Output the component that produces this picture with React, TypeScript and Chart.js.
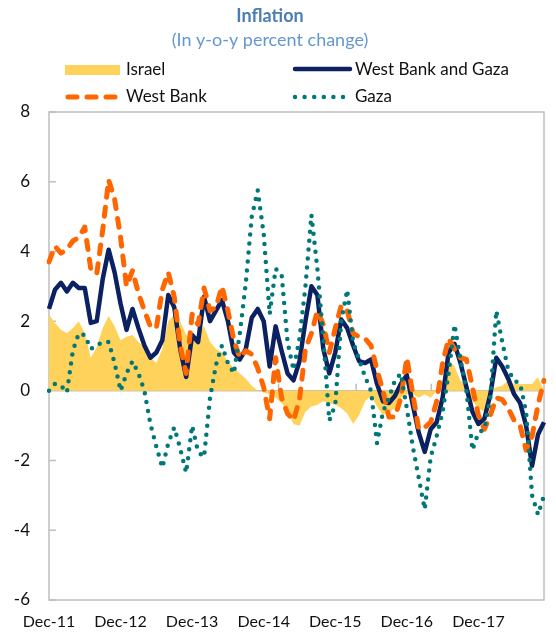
import React, { useEffect, useRef } from 'react';
import { Chart, registerables } from 'chart.js';

Chart.register(...registerables);

const TITLE = 'Inflation';
const SUBTITLE = '(In y-o-y percent change)';

const MONTHS = ['Jan', 'Feb', 'Mar', 'Apr', 'May', 'Jun', 'Jul', 'Aug', 'Sep', 'Oct', 'Nov', 'Dec'];

// Monthly, Dec-11 .. Nov-18
const israel = [
  2.2, 1.95, 1.75, 1.65, 1.8, 2.0, 1.65, 0.95, 1.25, 1.8,
  2.15, 1.85, 1.45, 1.55, 1.6, 1.4, 1.25, 0.95, 0.8, 1.2,
  2.0, 2.2, 2.0, 1.6, 1.45, 1.6, 1.85, 1.4, 1.2, 1.1,
  0.85, 0.65, 0.5, 0.35, 0.15, 0.0, -0.05, -0.1, -0.2, -0.35,
  -0.6, -0.95, -1.0, -0.6, -0.45, -0.4, -0.3, -0.35, -0.4, -0.5,
  -0.65, -0.95, -0.7, -0.3, -0.15, -0.45, -0.7, -0.6, -0.5, -0.2,
  -0.1, -0.1, -0.2, -0.1, -0.2, 0.0, 0.3, 0.9, 0.7, 0.3,
  0.1, -0.3, -0.5, -0.6, 0.0, 0.1, 0.15, 0.3, 0.2, 0.2,
  0.2, 0.2, 0.4, 0.0,
];

const westBankAndGaza = [
  2.35, 2.9, 3.1, 2.85, 3.1, 2.95, 2.95, 1.95, 2.0, 3.2,
  4.05, 3.4, 2.5, 1.75, 2.35, 1.8, 1.3, 0.95, 1.1, 1.45,
  2.75, 2.4, 1.2, 0.4, 1.6, 1.4, 2.7, 2.0, 2.3, 2.6,
  2.0, 1.1, 0.9, 1.2, 2.1, 2.35, 2.0, 0.7, 1.85, 1.15,
  0.5, 0.3, 0.85, 2.0, 3.0, 2.75, 1.2, 0.5, 1.1, 2.05,
  1.8, 1.3, 0.85, 0.8, 0.9, 0.2, -0.3, -0.35, -0.15, 0.2,
  0.45, -0.4, -1.2, -1.75, -1.1, -0.9, -0.2, 1.1, 1.35, 0.8,
  0.1, -0.6, -0.95, -0.8, -0.1, 0.95, 0.7, 0.35, -0.1, -0.35,
  -1.0, -2.15, -1.25, -0.9,
];

const westBank = [
  3.7, 4.15, 3.95, 4.05, 4.3, 4.4, 4.7, 3.5, 3.35, 4.6,
  6.05, 5.5, 4.4, 3.0, 3.45, 2.8, 2.3, 1.85, 1.8, 2.9,
  3.4, 2.7, 1.3, 0.5, 2.2, 1.9, 2.95, 2.3, 2.4, 3.0,
  2.3, 1.45, 0.95, 1.15, 1.05, 0.65, 0.1, -0.8, 0.95, -0.2,
  -0.65, -0.85, -0.25, 1.2, 1.65, 2.3, 1.9, 1.1, 1.8, 2.45,
  2.3, 1.65, 1.55, 1.5, 1.3, 0.6, 0.0, -0.75, -0.75, -0.2,
  0.95, -0.1, -1.1, -1.05, -0.9, -0.3, 0.8, 1.5, 1.2, 0.95,
  0.9, 0.1, -0.7, -1.1, -0.7, -0.2, -0.25, -0.5, -0.85, -1.0,
  -1.7, -1.3, -0.4, 0.3,
];

const gaza = [
  0.0, 0.2, 0.15, -0.05, 1.15, 1.65, 1.6, 1.2, 1.3, 1.4,
  1.4, 0.8, 0.0, 0.5, 0.85, 0.5, 0.0, -0.95, -1.6, -2.2,
  -1.5, -1.05, -1.65, -2.35, -1.0, -1.75, -1.9, -0.2, 0.75, 1.3,
  0.8, 0.5, 1.65, 3.1, 5.0, 5.75, 4.5, 2.2, 3.5, 3.35,
  1.4, 0.6, 1.5, 3.0, 5.05, 3.5, 1.5, -0.85, -0.4, 2.0,
  2.9, 1.4, 0.9, 0.4, 0.0, -1.5, -0.6, -0.2, 0.3, 0.5,
  -0.5, -1.6, -2.5, -3.4, -1.9, -1.3, -0.6, 0.5, 1.9, 0.9,
  0.0, -1.7, -1.2, -1.1, -0.2, 2.3, 1.4, 0.6, 0.3, 0.2,
  -0.6, -3.0, -3.55, -3.0,
];

const categories = israel.map((_, k) => {
  const m = (11 + k) % 12;
  const yr = 11 + Math.floor((11 + k) / 12);
  return `${MONTHS[m]}-${yr}`;
});

const tickLabels = ['Dec-11', 'Dec-12', 'Dec-13', 'Dec-14', 'Dec-15', 'Dec-16', 'Dec-17'];
const yTickValues = [-6, -4, -2, 0, 2, 4, 6, 8];
const axisTickIndices = [12.7, 25.7, 38.5, 51.5, 64.1];

const COLORS = {
  israel: '#ffd35b',
  wbg: '#0b2161',
  wb: '#ff6600',
  gaza: '#007878',
  axis: '#bfbfbf',
  title: '#4a7db5',
  subtitle: '#6497cf',
  text: '#111111',
};

const FONT = 'Lato, "Open Sans", sans-serif';

const framePlugin = {
  id: 'frame',
  beforeDatasetsDraw(chart: any) {
    const { ctx, chartArea: a, scales } = chart;
    const y0 = scales.y.getPixelForValue(0);
    ctx.save();
    ctx.strokeStyle = COLORS.axis;
    ctx.lineWidth = 1.5;
    ctx.strokeRect(a.left, a.top, a.right - a.left, a.bottom - a.top);
    ctx.beginPath();
    ctx.moveTo(a.left, y0);
    ctx.lineTo(a.right, y0);
    yTickValues.forEach((v) => {
      const py = scales.y.getPixelForValue(v);
      ctx.moveTo(a.left, py);
      ctx.lineTo(a.left + 7, py);
    });
    axisTickIndices.forEach((i) => {
      const px = scales.x.getPixelForValue(i);
      ctx.moveTo(px, y0);
      ctx.lineTo(px, y0 - 7);
    });
    ctx.stroke();
    ctx.restore();
  },
};

const headerPlugin = {
  id: 'header',
  afterDraw(chart: any) {
    const ctx = chart.ctx;
    ctx.save();
    ctx.textAlign = 'center';
    ctx.textBaseline = 'middle';
    ctx.fillStyle = COLORS.title;
    ctx.font = `bold 18px ${FONT}`;
    ctx.fillText(TITLE, 270, 16);
    ctx.fillStyle = COLORS.subtitle;
    ctx.font = `18px ${FONT}`;
    ctx.fillText(SUBTITLE, 270, 40);

    // legend
    ctx.textAlign = 'left';
    ctx.fillStyle = COLORS.text;
    ctx.font = `17px ${FONT}`;
    const row1 = 70;
    const row2 = 97;
    // Israel
    ctx.fillStyle = COLORS.israel;
    ctx.fillRect(65, row1 - 5, 55, 10);
    ctx.fillStyle = COLORS.text;
    ctx.fillText('Israel', 126, row1);
    // West Bank and Gaza
    ctx.strokeStyle = COLORS.wbg;
    ctx.lineWidth = 4.5;
    ctx.lineCap = 'round';
    ctx.beginPath();
    ctx.moveTo(295, row1 - 1);
    ctx.lineTo(350, row1 - 1);
    ctx.stroke();
    ctx.fillText('West Bank and Gaza', 355, row1);
    // West Bank
    ctx.strokeStyle = COLORS.wb;
    ctx.lineWidth = 5;
    ctx.setLineDash([9, 10]);
    ctx.beginPath();
    ctx.moveTo(68, row2);
    ctx.lineTo(118, row2);
    ctx.stroke();
    ctx.fillText('West Bank', 126, row2);
    // Gaza
    ctx.strokeStyle = COLORS.gaza;
    ctx.lineWidth = 4.5;
    ctx.setLineDash([0, 9.6]);
    ctx.beginPath();
    ctx.moveTo(295, row2);
    ctx.lineTo(346, row2);
    ctx.stroke();
    ctx.setLineDash([]);
    ctx.fillText('Gaza', 355, row2);
    ctx.restore();
  },
};

export default function App() {
  const ref = useRef<HTMLCanvasElement | null>(null);

  useEffect(() => {
    document.body.style.margin = '0';
    if (!ref.current) return;
    const chart = new Chart(ref.current, {
      type: 'line',
      data: {
        labels: categories,
        datasets: [
          {
            label: 'Gaza',
            data: gaza,
            borderColor: COLORS.gaza,
            borderWidth: 4.5,
            borderDash: [0, 9],
            borderCapStyle: 'round',
            borderJoinStyle: 'round',
            pointRadius: 0,
            fill: false,
            tension: 0,
            order: 1,
          },
          {
            label: 'West Bank',
            data: westBank,
            borderColor: COLORS.wb,
            borderWidth: 5,
            borderDash: [9, 10],
            borderCapStyle: 'round',
            borderJoinStyle: 'round',
            pointRadius: 0,
            fill: false,
            tension: 0,
            order: 2,
          },
          {
            label: 'West Bank and Gaza',
            data: westBankAndGaza,
            borderColor: COLORS.wbg,
            borderWidth: 4.5,
            borderJoinStyle: 'round',
            pointRadius: 0,
            fill: false,
            tension: 0,
            order: 3,
          },
          {
            label: 'Israel',
            data: israel,
            borderWidth: 0,
            borderColor: 'rgba(0,0,0,0)',
            backgroundColor: COLORS.israel,
            pointRadius: 0,
            fill: 'origin',
            tension: 0,
            order: 4,
          },
        ],
      },
      options: {
        animation: false,
        responsive: false,
        devicePixelRatio: 1,
        layout: { padding: { top: 112, right: 8, left: 0, bottom: 0 } },
        plugins: {
          legend: { display: false },
          title: { display: false },
          tooltip: { enabled: false },
        },
        scales: {
          x: {
            type: 'category',
            offset: false,
            grid: { display: false, drawTicks: false },
            border: { display: false },
            ticks: {
              autoSkip: false,
              maxRotation: 0,
              minRotation: 0,
              padding: 12,
              color: COLORS.text,
              font: { family: FONT, size: 16 },
              callback: (_v: any, idx: number) =>
                tickLabels.includes(categories[idx]) ? categories[idx] : '',
            },
            afterFit: (s: any) => {
              s.height = 39;
            },
          },
          y: {
            min: -6,
            max: 8,
            grid: { display: false, drawTicks: false },
            border: { display: false },
            ticks: {
              stepSize: 2,
              padding: 19,
              color: COLORS.text,
              font: { family: FONT, size: 17 },
            },
            afterFit: (s: any) => {
              s.width = 49;
            },
          },
        },
      },
      plugins: [framePlugin, headerPlugin],
    } as any);
    return () => chart.destroy();
  }, []);

  return (
    <div style={{ width: 556, height: 639 }}>
      <canvas ref={ref} width={556} height={639} style={{ display: 'block' }} />
    </div>
  );
}
